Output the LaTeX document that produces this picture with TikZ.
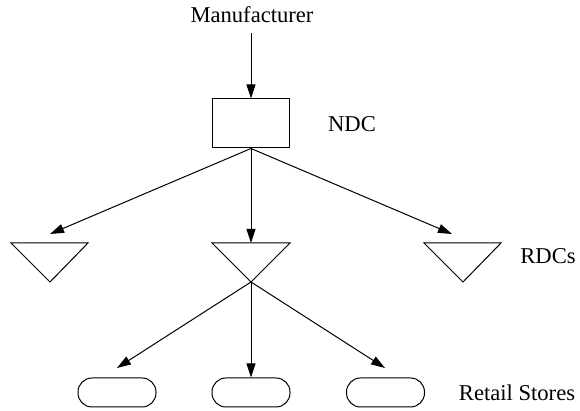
\documentclass[tikz,border=0pt]{standalone}
\usepackage{fontspec}
\setmainfont{Liberation Serif}
\usetikzlibrary{arrows.meta}
\begin{document}
\begin{tikzpicture}[x=0.5pt,y=-0.5pt, line width=0.5pt,
  lbl/.style={font=\fontsize{11.3}{13}\selectfont, inner sep=0},
  box/.style={draw, minimum width=38.5pt, minimum height=24.5pt, inner sep=0},
  store/.style={draw, rounded corners=7pt, minimum width=39pt, minimum height=14.5pt, inner sep=0},
  tri/.style={draw, line join=miter},
  arr/.style={-{Triangle[length=7pt,width=4.5pt]}}]
\useasboundingbox (0,0) rectangle (580,411);
% labels
\node[lbl] (man) at (252,15) {Manufacturer};
\node[lbl] (ndcl) at (352,124) {NDC};
\node[lbl] (rdcl) at (548,256) {RDCs};
\node[lbl] (rsl) at (517,393) {Retail Stores};
% NDC
\node[box] (ndc) at (251,123.5) {};
% RDC triangles
\coordinate (t1top) at (50,243);
\coordinate (t2top) at (251,243);
\coordinate (t3top) at (463,243);
\coordinate (t1) at (50,282);
\coordinate (t2) at (251,282);
\coordinate (t3) at (463,282);
\draw[tri] (11,243) -- (88,243) -- (t1) -- cycle;
\draw[tri] (212,243) -- (290,243) -- (t2) -- cycle;
\draw[tri] (424,243) -- (501,243) -- (t3) -- cycle;
% stores
\node[store] (s1) at (117,392.5) {};
\node[store] (s2) at (251,392.5) {};
\node[store] (s3) at (385.5,392.5) {};
% connector ends
\coordinate (mtop) at (251,33);
\coordinate (tipL) at (50,234);
\coordinate (tipR) at (452,234);
\coordinate (tipSL) at (117,368);
\coordinate (tipSR) at (385,368);
% connectors
\draw[arr] (mtop) -- (ndc.north);
\draw[arr] (ndc.south) -- (tipL);
\draw[arr] (ndc.south) -- (t2top);
\draw[arr] (ndc.south) -- (tipR);
\draw[arr] (t2) -- (tipSL);
\draw[arr] (t2) -- (s2.north);
\draw[arr] (t2) -- (tipSR);
\end{tikzpicture}
\end{document}
